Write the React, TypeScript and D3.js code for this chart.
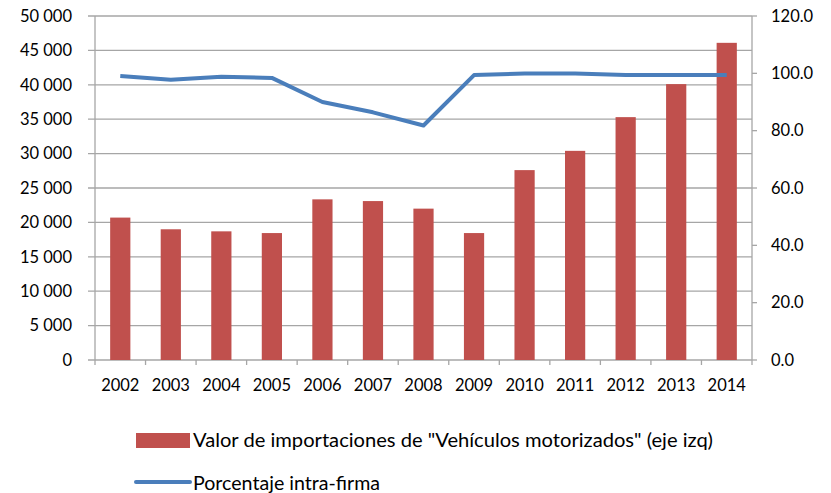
import React from 'react';
import * as d3 from 'd3';

const years = ['2002', '2003', '2004', '2005', '2006', '2007', '2008', '2009', '2010', '2011', '2012', '2013', '2014'];
const importValues = [20700, 19000, 18700, 18450, 23350, 23100, 22000, 18450, 27600, 30400, 35300, 40100, 46100];
const intraPct = [99.1, 97.8, 98.8, 98.4, 90.0, 86.4, 81.8, 99.4, 99.9, 99.9, 99.4, 99.4, 99.4];
const leftTicks = [0, 5000, 10000, 15000, 20000, 25000, 30000, 35000, 40000, 45000, 50000];
const rightTicks = [0, 20, 40, 60, 80, 100, 120];
const barLabel = 'Valor de importaciones de "Vehículos motorizados" (eje izq)';
const lineLabel = 'Porcentaje intra-firma';

const W = 831;
const H = 493;
const left = 95;
const right = 752;
const top = 16;
const bottom = 360;
const font = 'Lato, "Open Sans", sans-serif';
const grid = '#a6a6a6';

const fmt = (v: number) => (v >= 1000 ? `${Math.floor(v / 1000)} ${String(v % 1000).padStart(3, '0')}` : String(v));

export default function App() {
  const x = d3.scaleBand().domain(years).range([left, right]).paddingInner(0.6).paddingOuter(0.3);
  const xb = d3.scaleBand().domain(years).range([left, right]);
  const yL = d3.scaleLinear().domain([0, 50000]).range([bottom, top]);
  const yR = d3.scaleLinear().domain([0, 120]).range([bottom, top]);

  const line = d3
    .line<number>()
    .x((_, i) => (xb(years[i]) as number) + xb.bandwidth() / 2)
    .y((d) => yR(d));

  return (
    <svg width={W} height={H} style={{ position: 'absolute', left: 0, top: 0 }} fontFamily={font}>
      <rect width={W} height={H} fill="#fff" />
      {leftTicks.map((t) => (
        <g key={t}>
          <line x1={left - 7} x2={right} y1={yL(t)} y2={yL(t)} stroke={grid} strokeWidth={1.3} />
          <text x={72} y={yL(t)} dy="0.35em" textAnchor="end" fontSize={16.5} fill="#000">
            {fmt(t)}
          </text>
        </g>
      ))}
      {rightTicks.map((t) => (
        <g key={t}>
          <line x1={right} x2={right + 5} y1={yR(t)} y2={yR(t)} stroke={grid} strokeWidth={1.3} />
          <text x={771} y={yR(t)} dy="0.35em" textAnchor="start" fontSize={16.5} fill="#000">
            {t.toFixed(1)}
          </text>
        </g>
      ))}
      <line x1={left} x2={left} y1={top} y2={bottom} stroke={grid} strokeWidth={1.3} />
      <line x1={right} x2={right} y1={top} y2={bottom} stroke={grid} strokeWidth={1.3} />
      {years.map((yr) => (
        <line key={yr} x1={xb(yr)} x2={xb(yr)} y1={bottom} y2={bottom + 5} stroke={grid} strokeWidth={1.3} />
      ))}
      <line x1={right} x2={right} y1={bottom} y2={bottom + 5} stroke={grid} strokeWidth={1.3} />
      {years.map((yr, i) => (
        <rect
          key={yr}
          x={x(yr)}
          y={yL(importValues[i])}
          width={x.bandwidth()}
          height={bottom - yL(importValues[i])}
          fill="#C0504D"
        />
      ))}
      <path d={line(intraPct) || ''} fill="none" stroke="#4A7EBB" strokeWidth={4} strokeLinejoin="round" />
      {years.map((yr) => (
        <text key={yr} x={(xb(yr) as number) + xb.bandwidth() / 2} y={385} dy="0.35em" textAnchor="middle" fontSize={16.5} fill="#000">
          {yr}
        </text>
      ))}
      <rect x={136} y={433} width={54} height={15} fill="#C0504D" />
      <text x={193} y={440} dy="0.35em" fontSize={19.5} fill="#000" textLength={520} lengthAdjust="spacingAndGlyphs">
        {barLabel}
      </text>
      <line x1={136} x2={190} y1={482} y2={482} stroke="#4A7EBB" strokeWidth={4} strokeLinecap="round" />
      <text x={193} y={483} dy="0.35em" fontSize={19.5} fill="#000" textLength={187} lengthAdjust="spacingAndGlyphs">
        {lineLabel}
      </text>
    </svg>
  );
}
